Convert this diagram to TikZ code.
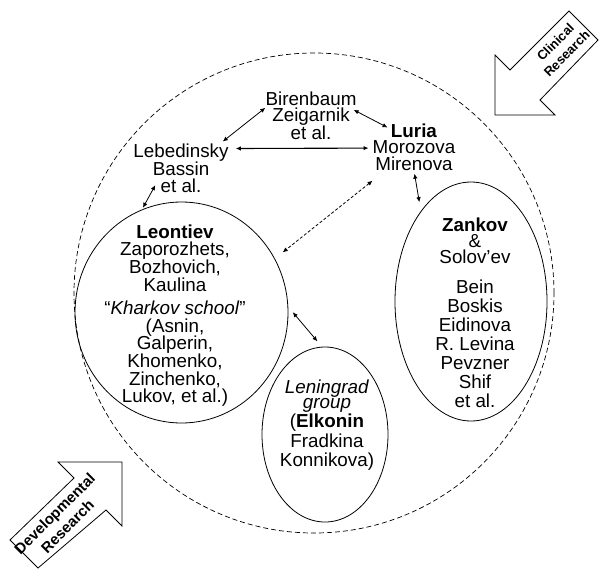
\documentclass[tikz,border=0pt]{standalone}
\usepackage{fontspec}
\setmainfont{Liberation Sans}
\usetikzlibrary{shapes.geometric,arrows.meta}
\tikzset{
    grp/.style={align=center, inner sep=0pt, anchor=north, font=\fontsize{18.8}{17}\selectfont},
    blob/.style={draw, ellipse, inner sep=0pt, line width=0.8pt},
    link/.style={{Latex[length=5pt,width=4.5pt]}-{Latex[length=5pt,width=4.5pt]}, line width=0.8pt},
    hint/.style={link, dash pattern=on 3pt off 2pt},
    bigarrow/.style={draw, fill=white, line width=0.8pt, line join=miter},
    tag/.style={rotate=45, align=center, inner sep=0pt, font=\bfseries\fontsize{13}{16}\selectfont}
}
\begin{document}
\begin{tikzpicture}[x=1pt, y=-1pt]
        \useasboundingbox (0,0) rectangle (599,568);
        \node[draw, circle, dash pattern=on 5pt off 3pt, line width=0.7pt, minimum size=480pt, inner sep=0pt] (field) at (314,293) {};
        \node[blob, minimum width=213pt, minimum height=221pt] (leontE) at (181.5,312.5) {};
        \node[blob, minimum width=152pt, minimum height=239pt] (zankE) at (471,301.5) {};
        \node[blob, minimum width=126pt, minimum height=175pt] (leninE) at (325,434.5) {};
        \node[grp, font=\fontsize{18.8}{16}\selectfont] (bir) at (311,91.5) {Birenbaum\\Zeigarnik\\et al.};
        \node[grp] (leb) at (181,143.5) {Lebedinsky\\Bassin\\et al.};
        \node[grp, font=\fontsize{18.8}{16.5}\selectfont] (luria) at (414,123.5) {\textbf{Luria}\\Morozova\\Mirenova};
        \node[grp, font=\fontsize{18.8}{17.6}\selectfont] (leont) at (175,224.5) {\textbf{Leontiev}\\Zaporozhets,\\Bozhovich,\\Kaulina\\[6pt]“\textit{Kharkov school}”\\(Asnin,\\Galperin,\\Khomenko,\\Zinchenko,\\Lukov, et al.)};
        \node[grp, font=\fontsize{18.8}{19}\selectfont] (zank) at (475,217.5) {\textbf{Zankov}\\[-3pt]\&\\[-3pt]Solov’ev\\[11pt]Bein\\Boskis\\Eidinova\\R. Levina\\Pevzner\\Shif\\et al.};
        \node[grp, font=\fontsize{18.8}{19.5}\selectfont] (lenin) at (327,379.5) {\textit{Leningrad}\\[-4.5pt]\textit{group}\\(\textbf{Elkonin}\\Fradkina\\Konnikova)};
        \draw[link] ([shift={(-6pt,2pt)}]leb.north east) -- (bir.170);
        \draw[link] ([shift={(-3pt,6pt)}]bir.east) -- ([shift={(15pt,-4pt)}]luria.north west);
        \draw[link, line width=1.1pt] ([shift={(7pt,-5pt)}]leb.north east) -- ([shift={(-4pt,-1pt)}]luria.west);
        \draw[link, shorten >=2pt] ([shift={(22pt,8pt)}]leb.south west) -- (leontE.111);
        \draw[link, shorten <=3pt, shorten >=9pt] (luria.south) -- (zankE.119);
        \draw[hint, shorten >=10pt] ([yshift=-10pt]luria.south west) -- (leontE.30);
        \draw[link, shorten <=7pt, shorten >=7pt] (leontE.3) -- (leninE.92);
        \draw[bigarrow] (495,115) -- (495,55) -- (510,70) -- (569,11) -- (598,40) -- (540,100) -- (555,115) -- cycle;
        \node[tag] (clin) at (561,48) {Clinical\\Research};
        \draw[bigarrow] (122,462) -- (58,462) -- (74,478) -- (10,540) -- (38,568) -- (106,510) -- (122,526) -- cycle;
        \node[tag, font=\bfseries\fontsize{15}{18}\selectfont] (devel) at (61,520) {Developmental\\Research};
\end{tikzpicture}
\end{document}
